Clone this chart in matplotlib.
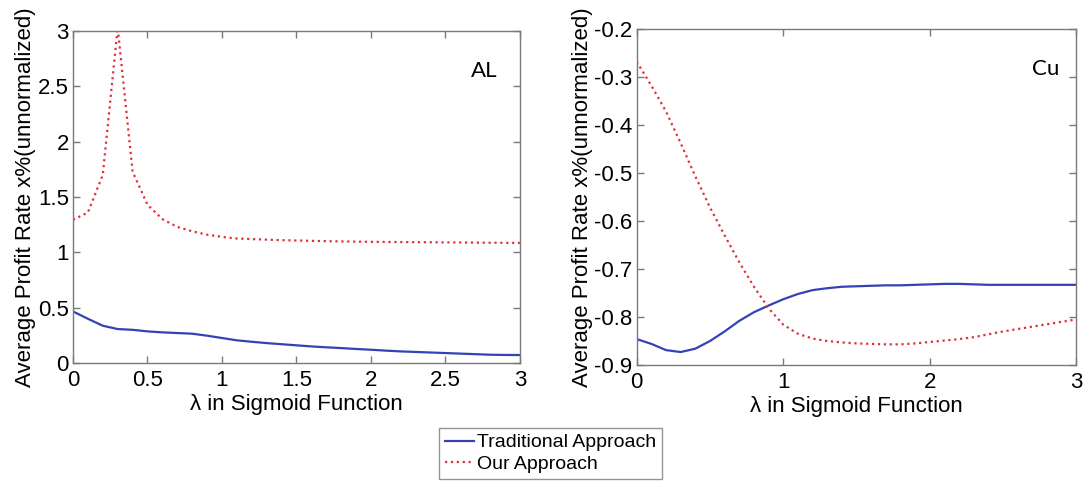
import matplotlib
matplotlib.use("Agg")
import matplotlib.pyplot as plt
from matplotlib.ticker import FuncFormatter

plt.rcParams['font.family'] = ['Liberation Sans', 'DejaVu Sans']
plt.rcParams['axes.unicode_minus'] = False

# lambda sampled every 0.1
lam = [i / 10 for i in range(31)]

al_traditional = [0.466, 0.40, 0.337, 0.307, 0.30, 0.286, 0.277, 0.271, 0.265, 0.247,
                  0.226, 0.205, 0.192, 0.180, 0.170, 0.160, 0.150, 0.142, 0.135, 0.127,
                  0.120, 0.112, 0.105, 0.100, 0.095, 0.090, 0.085, 0.080, 0.075, 0.073,
                  0.072]
al_ours = [1.294, 1.36, 1.70, 3.03, 1.73, 1.43, 1.30, 1.23, 1.19, 1.16,
           1.14, 1.125, 1.12, 1.115, 1.11, 1.107, 1.104, 1.101, 1.099, 1.097,
           1.095, 1.094, 1.093, 1.092, 1.091, 1.090, 1.089, 1.088, 1.087, 1.086,
           1.085]

cu_traditional = [-0.846, -0.856, -0.869, -0.873, -0.866, -0.850, -0.830, -0.808, -0.790, -0.776,
                  -0.763, -0.752, -0.744, -0.740, -0.737, -0.736, -0.735, -0.734, -0.734, -0.733,
                  -0.732, -0.731, -0.731, -0.732, -0.733, -0.733, -0.733, -0.733, -0.733, -0.733,
                  -0.733]
cu_ours = [-0.268, -0.318, -0.372, -0.438, -0.507, -0.572, -0.630, -0.686, -0.737, -0.782,
           -0.816, -0.835, -0.845, -0.850, -0.853, -0.855, -0.856, -0.857, -0.857, -0.855,
           -0.852, -0.849, -0.846, -0.842, -0.836, -0.830, -0.825, -0.820, -0.815, -0.810,
           -0.805]

BLUE = '#3343b5'
RED = '#e0303c'
GRAY = '#7a7a7a'

fig = plt.figure(figsize=(10.91, 4.83), dpi=100)
ax_al = fig.add_axes([0.0669, 0.2484, 0.4097, 0.6874])
ax_cu = fig.add_axes([0.5836, 0.2443, 0.4031, 0.6957])

def style(ax):
    for s in ax.spines.values():
        s.set_color(GRAY)
        s.set_linewidth(1.0)
    ax.tick_params(direction='in', top=True, right=True, length=5, width=1,
                   color=GRAY, labelsize=16, pad=3)
    ax.tick_params(axis='x', pad=5)
    ax.xaxis.set_major_formatter(FuncFormatter(lambda v, p: '%g' % v))
    ax.yaxis.set_major_formatter(FuncFormatter(lambda v, p: '%g' % round(v, 2)))
    ax.set_xlabel('λ in Sigmoid Function', fontsize=16, labelpad=2)
    ax.set_ylabel('Average Profit Rate x%(unnormalized)', fontsize=16, labelpad=1)

ln1, = ax_al.plot(lam, al_traditional, color=BLUE, lw=1.6, label='Traditional Approach')
ln2, = ax_al.plot(lam, al_ours, color=RED, lw=1.6, ls=':', label='Our Approach')
ax_al.set_xlim(0, 3)
ax_al.set_ylim(0, 3)
ax_al.set_xticks([0, 0.5, 1, 1.5, 2, 2.5, 3])
ax_al.set_yticks([0, 0.5, 1, 1.5, 2, 2.5, 3])
style(ax_al)
ax_al.text(0.95, 0.88, 'AL', transform=ax_al.transAxes, fontsize=16,
           family='Lato', ha='right', va='center')

ax_cu.plot(lam, cu_traditional, color=BLUE, lw=1.6)
ax_cu.plot(lam, cu_ours, color=RED, lw=1.6, ls=':')
ax_cu.set_xlim(0, 3)
ax_cu.set_ylim(-0.9, -0.2)
ax_cu.set_xticks([0, 1, 2, 3])
ax_cu.set_yticks([-0.9, -0.8, -0.7, -0.6, -0.5, -0.4, -0.3, -0.2])
style(ax_cu)
ax_cu.text(0.96, 0.88, 'Cu', transform=ax_cu.transAxes, fontsize=16,
           family='Lato', ha='right', va='center')

leg = fig.legend(handles=[ln1, ln2], loc='upper left',
                 bbox_to_anchor=(0.4024, 0.1139), borderaxespad=0,
                 fontsize=14, fancybox=False, frameon=True,
                 handlelength=1.5, handletextpad=0.15, borderpad=0.3,
                 labelspacing=0.2)
leg.get_frame().set_edgecolor(GRAY)
leg.get_frame().set_linewidth(1.0)

fig.savefig('out.png', dpi=100)
